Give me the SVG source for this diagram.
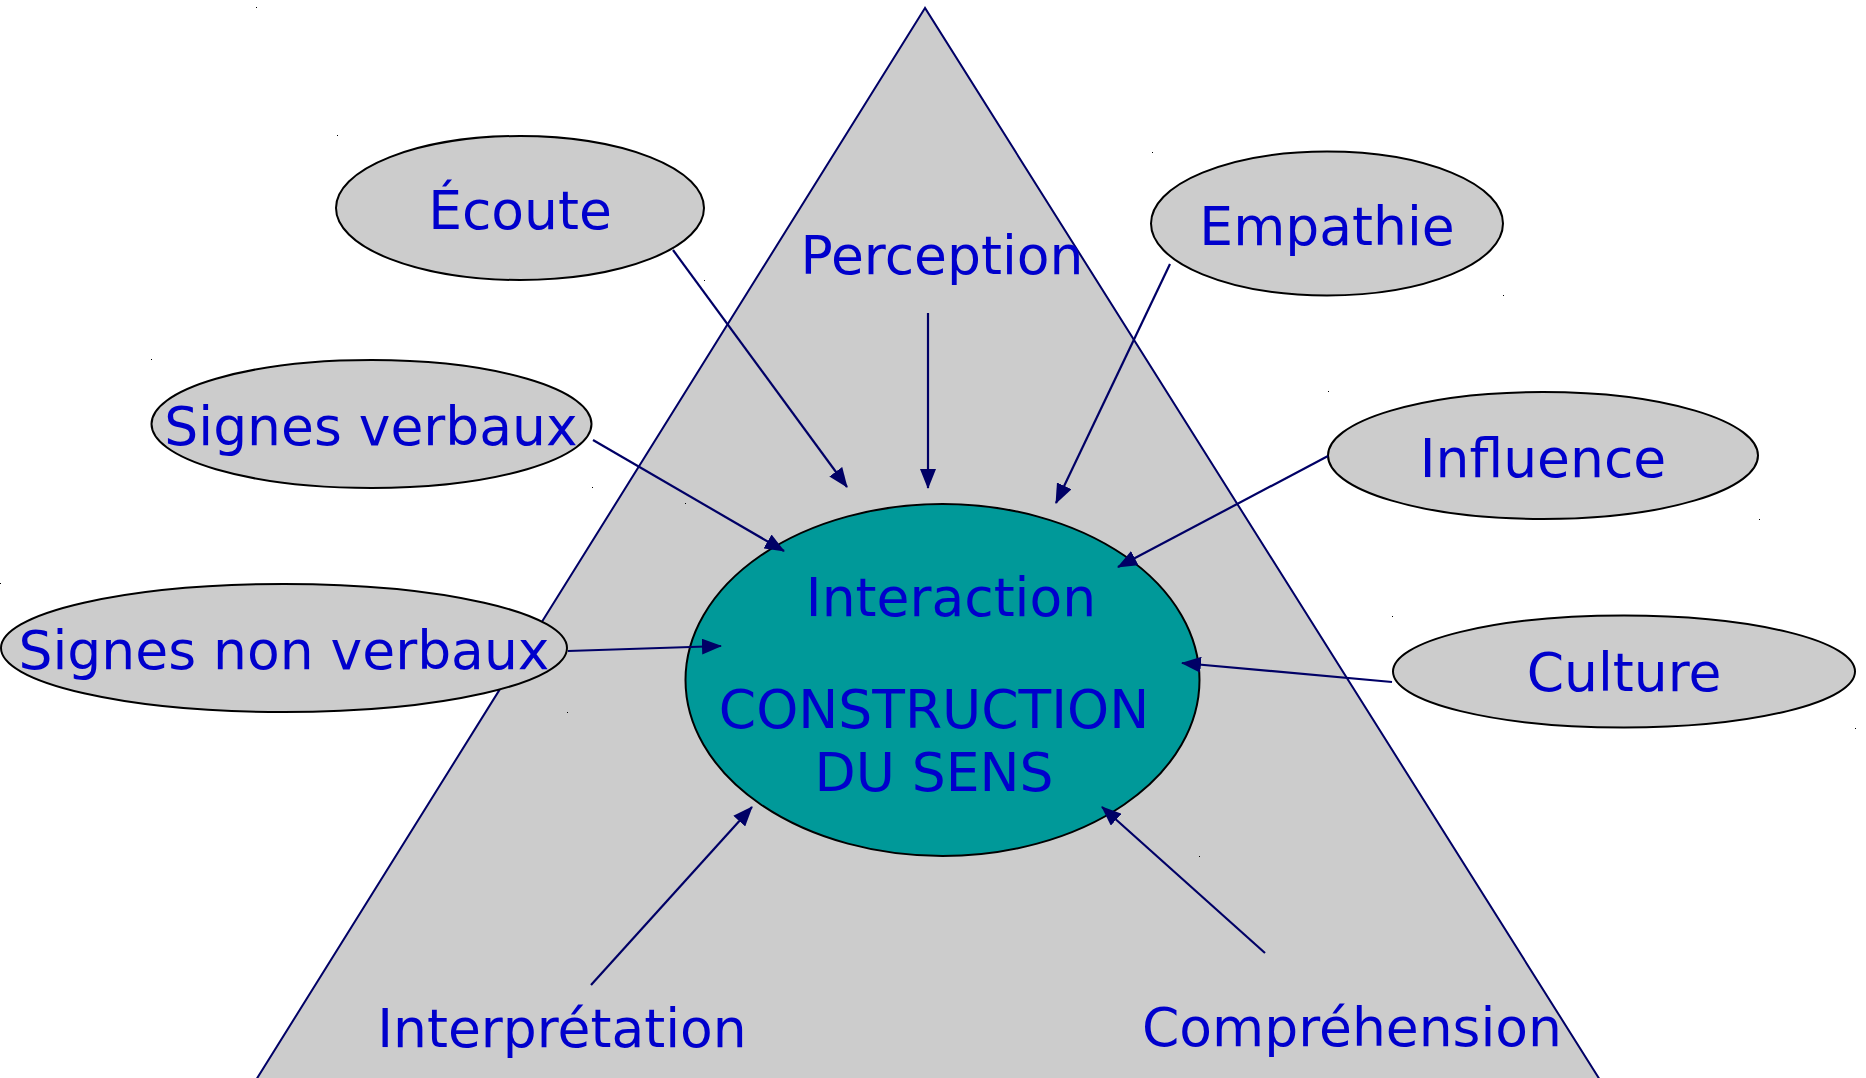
<svg xmlns="http://www.w3.org/2000/svg" width="1866" height="1078" viewBox="0 0 1866 1078">
<style>
.n{fill:#cccccc;stroke:#000;stroke-width:2}
.c{fill:#009999;stroke:#000;stroke-width:2}
.t{font-family:"DejaVu Sans",sans-serif;font-size:53.5px;fill:#0000cc;text-anchor:middle}
.e{stroke:#000066;stroke-width:2.2;fill:none;marker-end:url(#ah)}
.d{fill:#000}
</style>
<defs>
<marker id="ah" markerUnits="userSpaceOnUse" markerWidth="20" markerHeight="16" refX="19" refY="8" orient="auto" viewBox="0 0 20 16">
<path d="M0,0 L20,8 L0,16 z" fill="#000066"/>
</marker>
</defs>
<rect width="1866" height="1078" fill="#fff"/>
<g id="triangle">
<polygon points="925,8 256,1080 1600,1080" fill="#cccccc" stroke="#000066" stroke-width="2"/>
</g>
<g id="centre">
<ellipse class="c" cx="942.5" cy="680" rx="257" ry="176"/>
<text class="t" x="951" y="616">Interaction</text>
<text class="t" x="934" y="728">CONSTRUCTION</text>
<text class="t" x="934" y="791">DU SENS</text>
</g>
<g id="ecoute">
<ellipse class="n" cx="520" cy="208" rx="184" ry="72"/>
<text class="t" x="520" y="229">Écoute</text>
</g>
<g id="perception">
<text class="t" x="942" y="274">Perception</text>
</g>
<g id="empathie">
<ellipse class="n" cx="1327" cy="223.5" rx="176" ry="72"/>
<text class="t" x="1327" y="245">Empathie</text>
</g>
<g id="signes-verbaux">
<ellipse class="n" cx="371.5" cy="424" rx="220" ry="64"/>
<text class="t" x="371" y="445">Signes verbaux</text>
</g>
<g id="influence">
<ellipse class="n" cx="1543" cy="455.5" rx="215" ry="63.5"/>
<text class="t" x="1543" y="477">Influence</text>
</g>
<g id="signes-non-verbaux">
<ellipse class="n" cx="284" cy="648" rx="283" ry="64"/>
<text class="t" x="284" y="669">Signes non verbaux</text>
</g>
<g id="culture">
<ellipse class="n" cx="1624" cy="671.5" rx="231" ry="56"/>
<text class="t" x="1624" y="691">Culture</text>
</g>
<g id="interpretation">
<text class="t" x="562" y="1047">Interprétation</text>
</g>
<g id="comprehension">
<text class="t" x="1352" y="1046">Compréhension</text>
</g>
<g id="connectors">
<line class="e" x1="673" y1="250" x2="847" y2="487"/>
<line class="e" x1="928" y1="313" x2="928" y2="488"/>
<line class="e" x1="1170" y1="264" x2="1056" y2="503"/>
<line class="e" x1="593" y1="440" x2="784" y2="551"/>
<line class="e" x1="1328" y1="456" x2="1118" y2="567"/>
<line class="e" x1="568" y1="651" x2="721" y2="646"/>
<line class="e" x1="1392" y1="682" x2="1182" y2="663"/>
<line class="e" x1="591" y1="985" x2="752" y2="807"/>
<line class="e" x1="1265" y1="953" x2="1102" y2="807"/>
</g>
<g id="marks">
<rect class="d" x="256" y="7" width="1" height="1"/>
<rect class="d" x="337" y="135" width="1" height="1"/>
<rect class="d" x="704" y="280" width="1" height="1"/>
<rect class="d" x="151" y="359" width="1" height="1"/>
<rect class="d" x="592" y="487" width="1" height="1"/>
<rect class="d" x="685" y="503" width="1" height="1"/>
<rect class="d" x="1199" y="856" width="1" height="1"/>
<rect class="d" x="1152" y="152" width="1" height="1"/>
<rect class="d" x="1503" y="295" width="1" height="1"/>
<rect class="d" x="1328" y="391" width="1" height="1"/>
<rect class="d" x="1759" y="519" width="1" height="1"/>
<rect class="d" x="0" y="583" width="1" height="1"/>
<rect class="d" x="567" y="712" width="1" height="1"/>
<rect class="d" x="1392" y="616" width="1" height="1"/>
<rect class="d" x="1855" y="728" width="1" height="1"/>
</g>
</svg>
